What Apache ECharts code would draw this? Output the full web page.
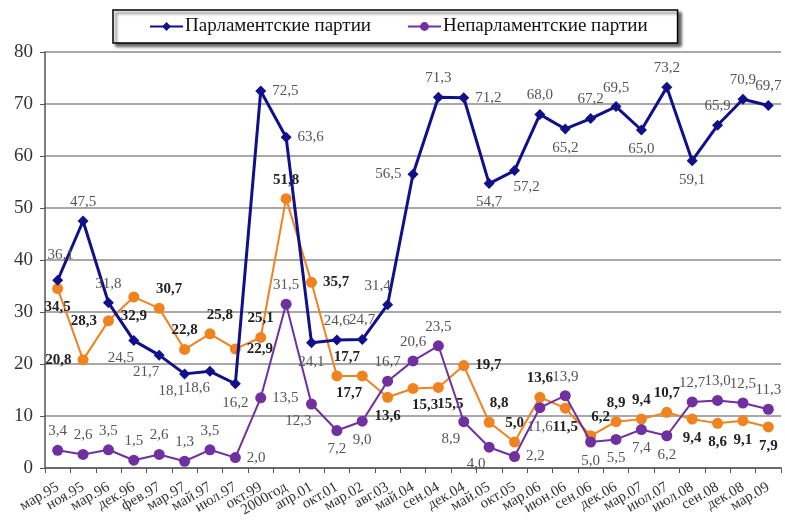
<!DOCTYPE html>
<html><head><meta charset="utf-8">
<script src="https://cdn.jsdelivr.net/npm/echarts@6/dist/echarts.min.js"></script>
<style>html,body{margin:0;padding:0;background:#fff}#c{width:785px;height:525px}</style>
</head><body><div id="c"></div>
<script>
const categories = ['мар.95','ноя.95','мар.96','дек.96','фев.97','мар.97','май.97','июл.97','окт.99','2000год','апр.01','окт.01','мар.02','авг.03','май.04','сен.04','дек.04','май.05','окт.05','мар.06','июн.06','сен.06','дек.06','мар.07','июл.07','июл.08','сен.08','дек.08','мар.09'];
const parliamentary = [36.1,47.5,31.8,24.5,21.7,18.1,18.6,16.2,72.5,63.6,24.1,24.6,24.7,31.4,56.5,71.3,71.2,54.7,57.2,68.0,65.2,67.2,69.5,65.0,73.2,59.1,65.9,70.9,69.7];
const nonParliamentary = [3.4,2.6,3.5,1.5,2.6,1.3,3.5,2.0,13.5,31.5,12.3,7.2,9.0,16.7,20.6,23.5,8.9,4.0,2.2,11.6,13.9,5.0,5.5,7.4,6.2,12.7,13.0,12.5,11.3];
const otherSeries = [34.5,20.8,28.3,32.9,30.7,22.8,25.8,22.9,25.1,51.8,35.7,17.7,17.7,13.6,15.3,15.5,19.7,8.8,5.0,13.6,11.5,6.2,8.9,9.4,10.7,9.4,8.6,9.1,7.9];
const yTicks = [0,10,20,30,40,50,60,70,80];

// label placements (style only)
const posBlue = ['T','t','t','bl','bl','bl','bl','b','r','r','b','t','t','tl','l','t','r','b','br','t','b','t','t','b','t','b','t','t','t'];
const posOrange = ['b','l','l','b','tr','t','tr','r','t','t','r','tr','bl','b','br','br','r','tr','t','t','b','tr','t','t','t','b','b','b','b'];
const posPurple = ['t','t','t','t','t','t','t','r','r','t','bl','b','b','t','t','t','bl','bl','r','b','t','b','b','b','b','t','t','t','t'];

const fmt = v => v.toFixed(1).replace('.', ',');
function lab(p){
  const m = {t:['top',[0,0]], T:['top',[3,-6]], b:['bottom',[0,0]], l:['left',[0,0]], r:['right',[0,0]],
    tl:['top',[-10,0]], tr:['top',[10,0]], bl:['bottom',[-13,-2]], br:['bottom',[12,-2]]};
  return m[p];
}
function mk(vals, pos){
  return vals.map((v,i)=>{ const [position, offset] = lab(pos[i]);
    return {value:v, label:{position, offset}}; });
}
const serif = '"Liberation Serif","DejaVu Serif",serif';
const chart = echarts.init(document.getElementById('c'));
chart.setOption({
  animation:false,
  backgroundColor:'#fff',
  grid:{left:45,right:4,top:52,bottom:57,containLabel:false},
  legend:{
    data:['Парламентские партии','Непарламентские партии'],
    left:113, top:10,
    itemGap:36, itemWidth:33, itemHeight:11,
    padding:[7,30,7,36],
    borderColor:'#000', borderWidth:1.5,
    backgroundColor:'#fff',
    shadowColor:'rgba(0,0,0,0.6)', shadowBlur:3, shadowOffsetX:3, shadowOffsetY:3,
    textStyle:{fontFamily:serif,fontSize:19,color:'#111',padding:[0,0,0,-3]}
  },
  xAxis:{
    type:'category', data:categories, boundaryGap:true,
    axisLine:{lineStyle:{color:'#555',width:1.5}},
    axisTick:{show:true,inside:false,length:5,lineStyle:{color:'#555'},alignWithLabel:false},
    axisLabel:{rotate:30,interval:0,fontFamily:serif,fontSize:15,color:'#333',margin:18}
  },
  yAxis:{
    type:'value', min:yTicks[0], max:yTicks[yTicks.length-1], interval:10,
    axisLine:{show:true,lineStyle:{color:'#555',width:1.5}},
    axisTick:{show:true,length:5,lineStyle:{color:'#555'}},
    axisLabel:{fontFamily:serif,fontSize:19,color:'#333',margin:12},
    splitLine:{lineStyle:{color:'#a8a8a8',width:2}}
  },
  series:[
    {name:'Парламентские партии', type:'line', data:mk(parliamentary,posBlue),
     symbol:'diamond', symbolSize:11, z:3,
     lineStyle:{color:'#10108a',width:3}, itemStyle:{color:'#10108a'},
     label:{show:true,formatter:p=>fmt(p.value),fontFamily:serif,fontSize:15,color:'#555',distance:6}},
    {name:'Непарламентские партии', type:'line', data:mk(nonParliamentary,posPurple),
     symbol:'circle', symbolSize:11, z:2,
     lineStyle:{color:'#7030a0',width:2}, itemStyle:{color:'#7030a0'},
     label:{show:true,formatter:p=>fmt(p.value),fontFamily:serif,fontSize:15,color:'#555',distance:6}},
    {name:'Прочие', type:'line', data:mk(otherSeries,posOrange),
     symbol:'circle', symbolSize:11, z:1,
     lineStyle:{color:'#f08220',width:2}, itemStyle:{color:'#f08220'},
     label:{show:true,formatter:p=>fmt(p.value),fontFamily:serif,fontSize:15,fontWeight:'bold',color:'#222',distance:6}}
  ]
});
</script></body></html>
